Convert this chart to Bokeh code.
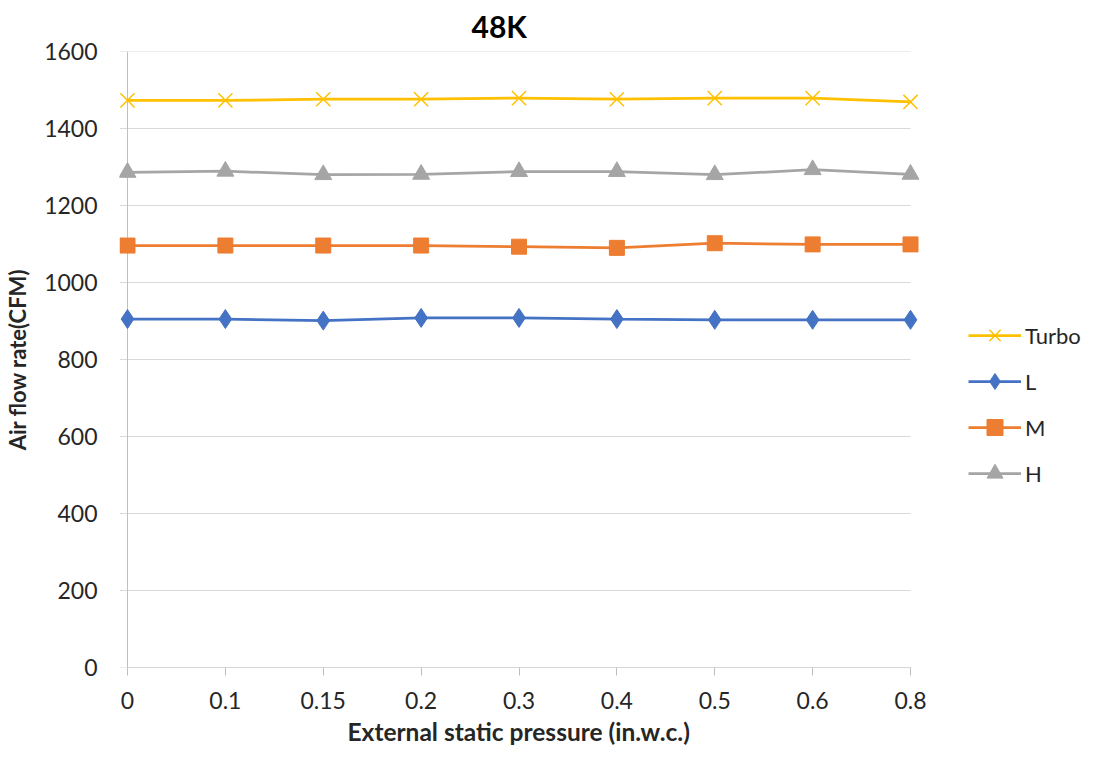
import numpy as np
from bokeh.plotting import figure
from bokeh.models import Legend, LegendItem, Range1d, FixedTicker, Title
from bokeh.embed import file_html
from bokeh.resources import INLINE

# ---- data ----
pressures = ["0", "0.1", "0.15", "0.2", "0.3", "0.4", "0.5", "0.6", "0.8"]
turbo = [1473, 1473, 1476, 1476, 1479, 1476, 1479, 1479, 1469]
low = [905, 905, 901, 908, 908, 905, 903, 903, 903]
mid = [1096, 1096, 1096, 1096, 1093, 1090, 1102, 1099, 1099]
high = [1286, 1289, 1280, 1281, 1288, 1288, 1280, 1293, 1281]
y_ticks = [0, 200, 400, 600, 800, 1000, 1200, 1400, 1600]

FONT = "Lato"
TXT = "#262626"
GRID = "#D9D9D9"
AXC = "#BFBFBF"

W, H = 1092, 756
# frame in figure pixels (wider than the data area so the legend fits inside)
FL, FR, FT, FB = 119, 1090, 51, 667
XL, XR = 127, 910          # pixel positions of first / last category
n = len(pressures)
k = (XR - XL) / (n - 1)
x_start = -(XL - FL) / k
x_end = (n - 1) + (FR - XR) / k

p = figure(width=W, height=H, output_backend="svg", toolbar_location=None,
           x_range=Range1d(x_start, x_end), y_range=Range1d(0, 1600),
           min_border_left=FL, min_border_right=W - FR,
           min_border_top=FT, min_border_bottom=H - FB)
p.outline_line_color = None
p.background_fill_color = "white"
p.border_fill_color = "white"

p.title.text = "48K"
p.title.text_font = FONT
p.title.text_font_size = "30px"
p.title.text_font_style = "bold"
p.title.text_color = "black"
p.title.align = "left"
p.title.offset = 352
p.title.vertical_align = "top"
p.title.standoff = 11

xs = list(range(n))

# gridlines (with the short outward extension left of the axis) and axis lines
p.segment(x0=[x_start] * len(y_ticks), y0=y_ticks, x1=[n - 1] * len(y_ticks), y1=y_ticks,
          line_color=GRID, line_width=1)
p.segment(x0=[0, 0], y0=[0, 0], x1=[0, n - 1], y1=[y_ticks[-1], 0],
          line_color=AXC, line_width=1)

series = [
    ("Turbo", turbo, "#FFC000", "x", 20),
    ("L", low, "#4472C4", "diamond", 19),
    ("M", mid, "#ED7D31", "square", 15),
    ("H", high, "#A5A5A5", "triangle", 17),
]
items = []
for name, vals, col, mk, sz in series:
    lr = p.line(xs, vals, line_color=col, line_width=2.75)
    if mk == "x":
        sr = p.scatter(xs, vals, marker=mk, size=sz, line_color=col, line_width=1.5)
    else:
        sr = p.scatter(xs, vals, marker=mk, size=sz, fill_color=col, line_color=col)
    items.append(LegendItem(label=name, renderers=[lr, sr]))

# axes
p.xaxis.ticker = FixedTicker(ticks=xs)
p.xaxis.major_label_overrides = {i: s for i, s in enumerate(pressures)}
p.yaxis.ticker = FixedTicker(ticks=y_ticks)

for ax in (p.xaxis[0], p.yaxis[0]):
    ax.axis_line_color = None
    ax.major_tick_line_color = AXC
    ax.major_tick_in = 0
    ax.minor_tick_line_color = None
    ax.major_label_text_font = FONT
    ax.major_label_text_font_size = "23px"
    ax.major_label_text_color = TXT
    ax.axis_label_text_font = FONT
    ax.axis_label_text_font_style = "bold"
    ax.axis_label_text_font_size = "22px"
    ax.axis_label_text_color = TXT

p.xaxis.major_tick_out = 8
p.yaxis.major_tick_out = 0
p.yaxis.major_tick_line_color = None
p.xaxis.major_label_standoff = 16
p.yaxis.major_label_standoff = 22
p.yaxis.axis_label = "Air flow rate(CFM)"
p.yaxis.axis_label_standoff = 10

xt = Title(text="External static pressure (in.w.c.)", align="left", offset=228,
           text_font=FONT, text_font_style="bold", text_font_size="24.5px",
           text_color=TXT, standoff=6)
p.add_layout(xt, "below")

p.xgrid.grid_line_color = None
p.ygrid.grid_line_color = None

legend = Legend(items=items, location=(849, 174), orientation="vertical")
legend.margin = 0
legend.padding = 0
legend.spacing = 6
legend.glyph_width = 53
legend.glyph_height = 40
legend.label_height = 22
legend.label_standoff = 4
legend.label_text_font = FONT
legend.label_text_font_size = "22px"
legend.label_text_color = TXT
legend.border_line_color = None
legend.background_fill_alpha = 0
p.add_layout(legend)

open("out.html", "w").write(file_html(p, INLINE))
